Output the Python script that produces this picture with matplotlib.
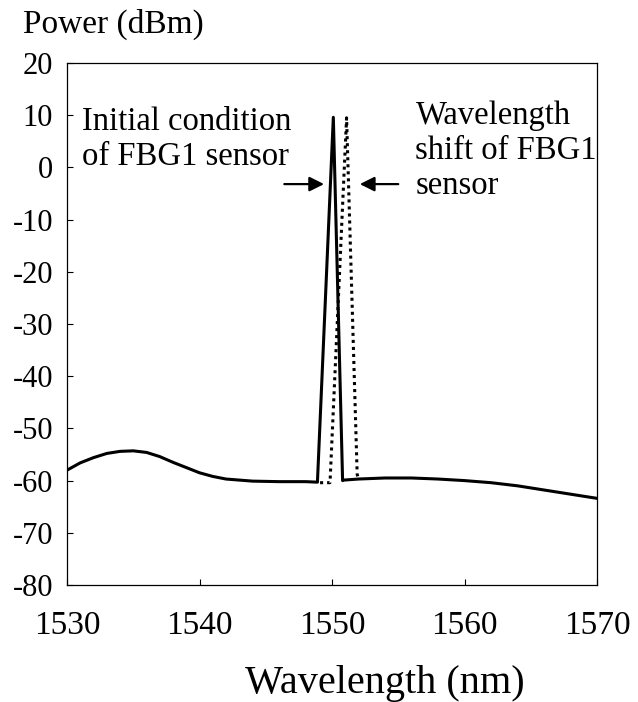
import numpy as np
import matplotlib.pyplot as plt

plt.rcParams['font.family'] = ['Liberation Serif', 'DejaVu Serif']
plt.rcParams['axes.unicode_minus'] = False

# broadband background spectrum (nm, dBm)
bg_wl = [1530, 1531, 1532, 1533, 1534, 1535, 1536, 1537, 1538, 1539, 1540, 1541, 1542,
         1544, 1546, 1548, 1548.9]
bg_pw = [-58.0, -56.6, -55.6, -54.8, -54.4, -54.3, -54.6, -55.4, -56.5, -57.5, -58.5,
         -59.2, -59.7, -60.1, -60.2, -60.2, -60.3]
bg2_wl = [1550.9, 1552, 1554, 1556, 1558, 1560, 1562, 1564, 1566, 1568, 1570]
bg2_pw = [-59.9, -59.7, -59.5, -59.5, -59.7, -60.0, -60.4, -61.0, -61.8, -62.6, -63.4]

# FBG1 reflection peak, initial condition
peak_wl = [1548.9, 1550.1, 1550.8, 1550.9]
peak_pw = [-60.3, 9.6, -60.0, -59.9]

# FBG1 peak after wavelength shift
shift_wl = [1549.1, 1549.85, 1551.1, 1551.9, 1552.0]
shift_pw = [-60.4, -60.4, 9.5, -58.8, -59.7]

fig = plt.figure(figsize=(6.38, 7.02), dpi=100)
ax = fig.add_axes([67 / 638, 1 - 585 / 702, 530 / 638, 522 / 702])

ax.plot(bg_wl + peak_wl + bg2_wl, bg_pw + peak_pw + bg2_pw, color='black', lw=2.2)
ax.plot(shift_wl, shift_pw, color='black', lw=2.2, linestyle=(0, (1, 1.3)))

ax.set_xlim(1530, 1570)
ax.set_ylim(-80, 20)
ax.set_xticks([1530, 1540, 1550, 1560, 1570])
ax.set_yticks(np.arange(-80, 21, 10))
ax.tick_params(direction='in', length=4, width=0.8)
ax.tick_params(axis='x', labelsize=24, pad=18)
ax.tick_params(axis='y', labelsize=22, pad=10)
for s in ax.spines.values():
    s.set_linewidth(0.9)

fig.text(385 / 638, 1 - 683 / 702, 'Wavelength (nm)', fontsize=29, va='center', ha='center')
fig.text(23 / 638, 1 - 24 / 702, 'Power (dBm)', fontsize=24, va='center', ha='left')

ax.text(1531.15, 11.7, 'Initial condition\nof FBG1 sensor', fontsize=23.5, va='top',
        ha='left', linespacing=1.2)
ax.text(1556.3, 12.9, 'Wavelength\nshift of FBG1\nsensor', fontsize=23.5, va='top',
        ha='left', linespacing=1.2)
ax.annotate('', xy=(1549.4, -3.2), xytext=(1546.4, -3.2),
            arrowprops=dict(arrowstyle='-|>', color='black', lw=1.6, mutation_scale=22,
                            shrinkA=0, shrinkB=0))
ax.annotate('', xy=(1552.1, -3.2), xytext=(1555.0, -3.2),
            arrowprops=dict(arrowstyle='-|>', color='black', lw=1.6, mutation_scale=22,
                            shrinkA=0, shrinkB=0))

fig.savefig('out.png', dpi=100)
